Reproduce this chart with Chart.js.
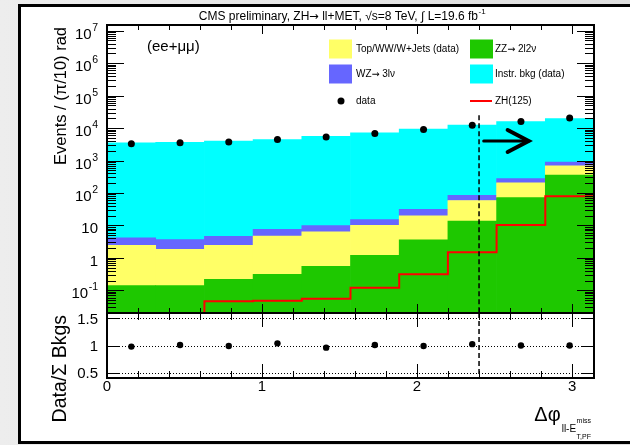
<!DOCTYPE html>
<html>
<head>
<meta charset="utf-8">
<script src="https://cdn.jsdelivr.net/npm/chart.js@4.4.1/dist/chart.umd.min.js"></script>
<style>
  html, body { margin: 0; padding: 0; }
  body { width: 630px; height: 445px; overflow: hidden; position: relative;
         background: linear-gradient(90deg, #ededed 0%, #dedede 100%); }
  #sheet { position: absolute; left: 18px; top: 4px; width: 640px; height: 434px;
           background: #fff; border: 3px solid #000; border-right: none; }
  #plot { position: absolute; left: 0; top: 0; }
</style>
</head>
<body>
<div id="sheet"></div>
<canvas id="plot" width="630" height="445"></canvas>
<script>
// Delta-phi(ll, MET) distribution, ee+mumu channel: stacked backgrounds,
// data points, ZH(125) signal and the data / total background ratio.
const FONT = '"Liberation Sans", Arial, Helvetica, sans-serif';
const ARROW_FONT = '"DejaVu Sans", sans-serif';

const N_BINS = 10;
const BIN_WIDTH = Math.PI / N_BINS;           // (pi/10) rad bins
const binCenters = Array.from({ length: N_BINS }, (_, i) => (i + 0.5) * BIN_WIDTH);
const binLowEdges = Array.from({ length: N_BINS }, (_, i) => i * BIN_WIDTH);

// Events per bin, per process
const zzValues    = [0.14, 0.14, 0.22, 0.31, 0.55, 1.2, 3.6, 13.7, 72, 353];
const topWWValues = [2.3, 1.7, 2.2, 4.4, 5.8, 8.8, 16, 45, 132, 327];
const wzValues    = [1.7, 1.8, 2.2, 2.9, 3.5, 5.0, 11.5, 26, 74, 210];
const instrValues = [3500, 3600, 4000, 4440, 5590, 7090, 9270, 12200, 15600, 18800];
const dataValues  = [3300, 3500, 3700, 4450, 5350, 6800, 9100, 12300, 15900, 20600];
const zhValues    = [0, 0, 0.046, 0.048, 0.055, 0.12, 0.31, 1.5, 10.3, 79];
const ratioValues = [0.98, 1.01, 0.99, 1.04, 0.96, 1.01, 0.99, 1.025, 1.0, 1.0];

// Axis ranges and labels
const Y_MIN = 0.02, Y_MAX = 1.5e7;
const yDecadeExponents = [-1, 0, 1, 2, 3, 4, 5, 6, 7];
const R_MIN = 0.4, R_MAX = 1.6;
const ratioTickValues = [0.5, 1, 1.5];
const xTickValues = [0, 1, 2, 3];
const X_MINOR_STEP = 0.2;

// Selection cut and arrow
const CUT_X = 2.4, CUT_TOP = 2.5e4;
const ARROW = { x0: 2.43, x1: 2.72, y: 4000 };

const COLORS = { zz: '#1ec800', top: '#ffff66', wz: '#6666ff', instr: '#00ffff', zh: '#ff0000' };

const toPoints = vals => vals.map((v, i) => ({ x: binCenters[i], y: v }));
// step line through bin low edges, closed at pi; empty bins sit on the axis floor
const zhSteps = binLowEdges.map((x, i) => ({ x, y: zhValues[i] > 0 ? zhValues[i] : Y_MIN }))
  .concat([{ x: Math.PI, y: zhValues[N_BINS - 1] }]);

function font(size, family = FONT) { return `${size}px ${family}`; }

// text with the right arrow drawn in a font whose arrow is full width
function richSegments(text) {
  return text.split(/(\u2192)/).filter(s => s.length);
}
function measureRich(ctx, text, size) {
  let w = 0;
  richSegments(text).forEach(s => {
    ctx.font = s === '\u2192' ? font(size * 0.95, ARROW_FONT) : font(size);
    w += ctx.measureText(s).width;
  });
  return w;
}
function fillRich(ctx, text, x, y, size) {
  ctx.textAlign = 'left';
  richSegments(text).forEach(s => {
    ctx.font = s === '\u2192' ? font(size * 0.95, ARROW_FONT) : font(size);
    ctx.fillText(s, x, y);
    x += ctx.measureText(s).width;
  });
  return x;
}

function drawPowerLabel(ctx, exp, xRight, yTick) {
  const size = 15, supSize = 10.5;
  const base = yTick + 8;
  ctx.textAlign = 'left';
  ctx.textBaseline = 'alphabetic';
  if (exp === 0 || exp === 1) {
    ctx.font = font(size);
    const s = exp === 0 ? '1' : '10';
    const w = ctx.measureText(s).width;
    ctx.fillText(s, xRight - w, base);
    return;
  }
  ctx.font = font(supSize);
  const e = String(exp);
  const we = ctx.measureText(e).width;
  ctx.fillText(e, xRight - we, base - 8);
  ctx.font = font(size);
  const wb = ctx.measureText('10').width;
  ctx.fillText('10', xRight - we - wb - 0.5, base);
}

const rootStyle = {
  id: 'rootStyle',
  beforeDatasetsDraw(chart) {
    const { ctx, chartArea: ca } = chart;
    const yr = chart.scales.yr;
    ctx.save();
    ctx.strokeStyle = '#000';
    ctx.lineWidth = 1;
    ctx.setLineDash([1, 2]);
    ratioTickValues.forEach(v => {
      const py = Math.round(yr.getPixelForValue(v)) + 0.5;
      ctx.beginPath(); ctx.moveTo(ca.left, py); ctx.lineTo(ca.right, py); ctx.stroke();
    });
    ctx.restore();
  },
  afterDatasetsDraw(chart) {
    const { ctx } = chart;
    const { x, y, yr } = chart.scales;
    ctx.save();
    // cut line
    ctx.strokeStyle = '#000';
    ctx.lineWidth = 1.5;
    ctx.setLineDash([5, 3]);
    const cx = x.getPixelForValue(CUT_X);
    ctx.beginPath();
    ctx.moveTo(cx, y.getPixelForValue(CUT_TOP));
    ctx.lineTo(cx, y.bottom);
    ctx.moveTo(cx, yr.top);
    ctx.lineTo(cx, yr.bottom);
    ctx.stroke();
    ctx.setLineDash([]);
    // arrow
    const ax0 = x.getPixelForValue(ARROW.x0), ax1 = x.getPixelForValue(ARROW.x1);
    const ay = y.getPixelForValue(ARROW.y);
    ctx.lineCap = 'round';
    ctx.lineWidth = 3;
    ctx.beginPath(); ctx.moveTo(ax0, ay); ctx.lineTo(ax1, ay); ctx.stroke();
    ctx.lineWidth = 4;
    ctx.beginPath();
    ctx.moveTo(ax1 - 21, ay - 11); ctx.lineTo(ax1, ay); ctx.lineTo(ax1 - 21, ay + 11);
    ctx.stroke();
    ctx.restore();
  },
  afterDraw(chart) {
    const { ctx, chartArea: ca } = chart;
    const { x, y, yr } = chart.scales;
    ctx.save();
    ctx.fillStyle = '#000';
    ctx.strokeStyle = '#000';

    // y ticks, upper panel (log)
    ctx.lineWidth = 1;
    ctx.beginPath();
    for (let e = Math.floor(Math.log10(Y_MIN)); e <= Math.ceil(Math.log10(Y_MAX)); e++) {
      for (let m = 1; m <= 9; m++) {
        const v = m * Math.pow(10, e);
        if (v < Y_MIN || v > Y_MAX) continue;
        const py = Math.round(y.getPixelForValue(v)) + 0.5;
        const len = m === 1 ? 17 : 9;
        ctx.moveTo(ca.left, py); ctx.lineTo(ca.left + len, py);
        ctx.moveTo(ca.right, py); ctx.lineTo(ca.right - len, py);
      }
    }
    // ratio y ticks
    ratioTickValues.forEach(v => {
      const py = Math.round(yr.getPixelForValue(v)) + 0.5;
      ctx.moveTo(ca.left, py); ctx.lineTo(ca.left + 12, py);
      ctx.moveTo(ca.right, py); ctx.lineTo(ca.right - 12, py);
    });
    // x ticks on both panels
    const nMinor = Math.floor(Math.PI / X_MINOR_STEP + 1e-9);
    for (let k = 0; k <= nMinor; k++) {
      const v = k * X_MINOR_STEP;
      const major = xTickValues.some(t => Math.abs(t - v) < 1e-6);
      const px = Math.round(x.getPixelForValue(v)) + 0.5;
      const lu = major ? 9 : 5, lr = major ? 14 : 7;
      ctx.moveTo(px, y.top); ctx.lineTo(px, y.top + lu);
      ctx.moveTo(px, y.bottom); ctx.lineTo(px, y.bottom - lu);
      ctx.moveTo(px, yr.top); ctx.lineTo(px, yr.top + lr);
      ctx.moveTo(px, yr.bottom); ctx.lineTo(px, yr.bottom - lr);
    }
    ctx.stroke();

    // panel frames
    ctx.lineWidth = 2;
    ctx.strokeRect(ca.left, y.top, ca.right - ca.left, y.bottom - y.top);
    ctx.strokeRect(ca.left, yr.top, ca.right - ca.left, yr.bottom - yr.top);

    // y labels, upper panel
    yDecadeExponents.forEach(e => drawPowerLabel(ctx, e, 98, y.getPixelForValue(Math.pow(10, e))));
    // ratio labels
    ctx.font = font(15);
    ctx.textAlign = 'right';
    ctx.textBaseline = 'middle';
    ratioTickValues.forEach(v => ctx.fillText(String(v), 98, yr.getPixelForValue(v) + 1));
    // x labels
    ctx.textAlign = 'center';
    ctx.textBaseline = 'alphabetic';
    xTickValues.forEach(v => ctx.fillText(String(v), x.getPixelForValue(v), 391));

    // axis titles
    ctx.save();
    ctx.translate(66, y.top + 2);
    ctx.rotate(-Math.PI / 2);
    ctx.textAlign = 'right';
    ctx.font = font(16.5);
    ctx.fillText('Events / (\u03C0/10) rad', 0, 0);
    ctx.restore();

    ctx.save();
    ctx.translate(65.5, yr.top + 2);
    ctx.rotate(-Math.PI / 2);
    ctx.textAlign = 'right';
    ctx.font = font(19.5);
    ctx.fillText('Data/\u03A3 Bkgs', 0, 0);
    ctx.restore();

    // x title: delta-phi with sub/superscripts, right-aligned to the axis end
    ctx.textAlign = 'left';
    ctx.font = font(7);
    const wMiss = ctx.measureText('miss').width;
    const wTPF = ctx.measureText('T,PF').width;
    const wGroup = Math.max(wMiss, wTPF);
    ctx.font = font(10);
    const wSub = ctx.measureText('ll-E').width;
    ctx.font = font(20);
    const wDphi = ctx.measureText('\u0394\u03C6').width;
    const xEnd = ca.right - 3;
    const xGroup = xEnd - wGroup;
    const xSub = xGroup - wSub - 0.5;
    const xD = xSub - wDphi - 1;
    ctx.fillText('\u0394\u03C6', xD, 421);
    ctx.font = font(10);
    ctx.fillText('ll-E', xSub, 432);
    ctx.font = font(7);
    ctx.fillText('miss', xGroup, 423);
    ctx.fillText('T,PF', xGroup, 439);

    // header
    const head = 'CMS preliminary, ZH\u2192 ll+MET, \u221As=8 TeV, \u222B L=19.6 fb';
    const wh = measureRich(ctx, head, 12);
    ctx.font = font(8);
    const wsup = ctx.measureText('-1').width;
    const hx = 342 - (wh + wsup) / 2;
    const hEnd = fillRich(ctx, head, hx, 19.5, 12);
    ctx.font = font(8);
    ctx.fillText('-1', hEnd + 0.5, 14);

    // channel tag
    ctx.font = font(15);
    ctx.fillText('(ee+\u03BC\u03BC)', 147, 51);

    // legend
    const ds = chart.data.datasets;
    const cols = [{ box: 329, text: 356 }, { box: 470, text: 495 }];
    const rows = [49, 74, 101];
    const entries = [
      [{ i: 1, kind: 'box' }, { i: 0, kind: 'box' }],
      [{ i: 2, kind: 'box' }, { i: 3, kind: 'box' }],
      [{ i: 5, kind: 'dot' }, { i: 4, kind: 'line' }]
    ];
    ctx.textBaseline = 'middle';
    entries.forEach((row, r) => row.forEach((ent, c) => {
      const d = ds[ent.i], cy = rows[r], col = cols[c];
      if (ent.kind === 'box') {
        ctx.fillStyle = d.backgroundColor;
        ctx.fillRect(col.box, cy - 9.5, 23, 19);
      } else if (ent.kind === 'dot') {
        ctx.fillStyle = '#000';
        ctx.beginPath(); ctx.arc(col.box + 12, cy, 3.5, 0, Math.PI * 2); ctx.fill();
      } else {
        ctx.strokeStyle = d.borderColor;
        ctx.lineWidth = 2;
        ctx.beginPath(); ctx.moveTo(col.box, cy); ctx.lineTo(col.box + 22, cy); ctx.stroke();
      }
      ctx.fillStyle = '#000';
      fillRich(ctx, d.label, col.text, cy + 0.5, 10);
    }));
    ctx.restore();
  }
};

const barDefaults = { type: 'bar', yAxisID: 'y', order: 3, borderWidth: 0,
                      barPercentage: 1, categoryPercentage: 1 };

new Chart(document.getElementById('plot'), {
  data: {
    datasets: [
      { ...barDefaults, label: 'ZZ\u2192 2l2\u03BD', data: toPoints(zzValues), backgroundColor: COLORS.zz },
      { ...barDefaults, label: 'Top/WW/W+Jets (data)', data: toPoints(topWWValues), backgroundColor: COLORS.top },
      { ...barDefaults, label: 'WZ\u2192 3l\u03BD', data: toPoints(wzValues), backgroundColor: COLORS.wz },
      { ...barDefaults, label: 'Instr. bkg (data)', data: toPoints(instrValues), backgroundColor: COLORS.instr },
      { type: 'line', label: 'ZH(125)', data: zhSteps, yAxisID: 'y', stack: 'zh', order: 1,
        stepped: true, borderColor: COLORS.zh, borderWidth: 2, pointRadius: 0, fill: false },
      { type: 'line', label: 'data', data: toPoints(dataValues), yAxisID: 'y', stack: 'data', order: 0,
        showLine: false, pointRadius: 3.5, pointBackgroundColor: '#000', pointBorderWidth: 0 },
      { type: 'line', label: 'Data/\u03A3 Bkgs', data: toPoints(ratioValues), yAxisID: 'yr', order: 0,
        showLine: false, pointRadius: 3.2, pointBackgroundColor: '#000', pointBorderWidth: 0 }
    ]
  },
  options: {
    responsive: false,
    animation: false,
    events: [],
    layout: { padding: { top: 25, right: 36, bottom: 0, left: 0 } },
    plugins: { legend: { display: false }, tooltip: { enabled: false } },
    scales: {
      x: {
        type: 'linear', min: 0, max: Math.PI, stacked: true, offset: false,
        afterBuildTicks: s => { s.ticks = xTickValues.map(v => ({ value: v })); },
        ticks: { display: false }, grid: { display: false, offset: false }, border: { display: false },
        afterFit: s => { s.height = 67; }
      },
      yr: {
        type: 'linear', position: 'left', stack: 'panels', stackWeight: 65,
        min: R_MIN, max: R_MAX,
        ticks: { display: false }, grid: { display: false }, border: { display: false },
        afterFit: s => { s.width = 107; }
      },
      y: {
        type: 'logarithmic', position: 'left', stack: 'panels', stackWeight: 288,
        min: Y_MIN, max: Y_MAX, stacked: true,
        ticks: { display: false }, grid: { display: false }, border: { display: false },
        afterFit: s => { s.width = 107; }
      }
    }
  },
  plugins: [rootStyle]
});
</script>
</body>
</html>
